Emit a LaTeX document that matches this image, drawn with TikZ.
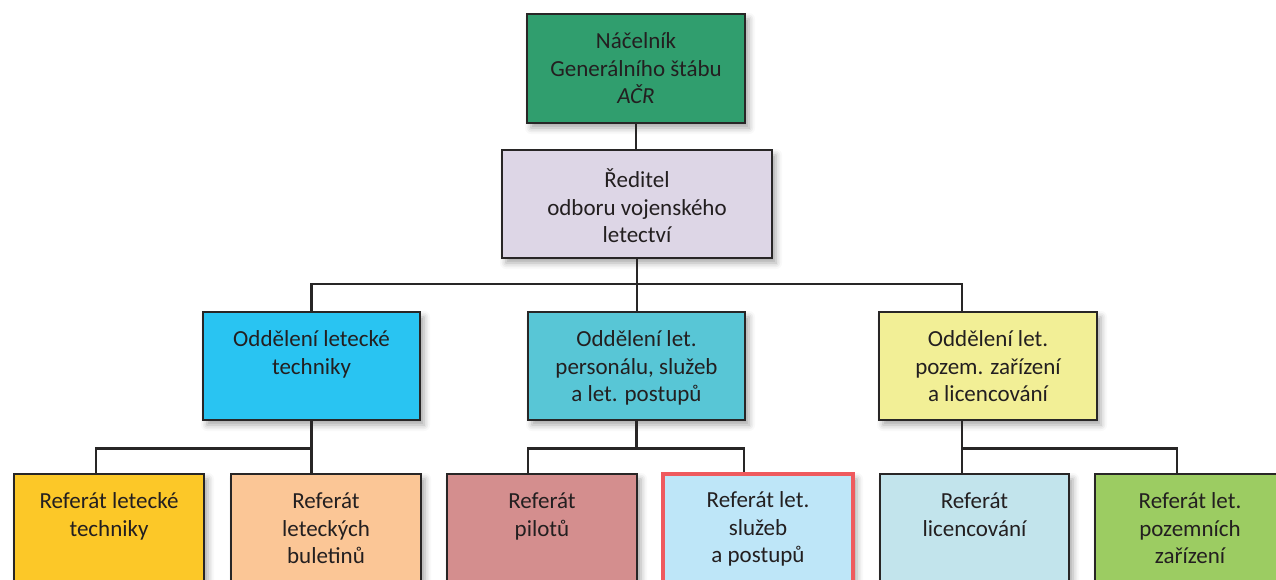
\documentclass[tikz,border=0pt]{standalone}
\usepackage{fontspec}
\setmainfont{Carlito}
\usetikzlibrary{shadows.blur}

\definecolor{txtc}{RGB}{35,31,32}
\definecolor{edgec}{RGB}{40,38,38}
\definecolor{cNac}{RGB}{48,158,110}
\definecolor{cDir}{RGB}{221,214,230}
\definecolor{cTech}{RGB}{41,196,242}
\definecolor{cPers}{RGB}{88,198,214}
\definecolor{cGround}{RGB}{242,239,150}
\definecolor{cR1}{RGB}{252,200,40}
\definecolor{cR2}{RGB}{251,198,150}
\definecolor{cR3}{RGB}{212,142,142}
\definecolor{cR4}{RGB}{190,230,248}
\definecolor{cR5}{RGB}{194,228,236}
\definecolor{cR6}{RGB}{156,204,98}
\definecolor{redrim}{RGB}{239,90,94}

\tikzset{
  orgbox/.style={draw=edgec, line width=2.5pt, rectangle, inner sep=0pt,
    blur shadow={shadow xshift=4pt, shadow yshift=-5pt,
      shadow blur radius=6pt, shadow opacity=35}},
  boxtext/.style={anchor=north, yshift=-20pt, align=center, inner sep=0pt,
    text=txtc, font=\fontsize{23}{27.5}\selectfont,
    execute at begin node=\strut},
  wide/.style={minimum width=270pt, minimum height=108pt},
  mid/.style={minimum width=217pt, minimum height=108pt},
  low/.style={minimum width=190pt, minimum height=136pt},
  link/.style={draw=edgec, line width=2.5pt}
}

\begin{document}
\begin{tikzpicture}[x=1pt, y=-1pt]
\useasboundingbox (0,0) rectangle (1276,579);
\clip (0,0) rectangle (1276,579);

% level 0 and 1
\node[orgbox, fill=cNac, minimum width=218pt, minimum height=109pt,
  label={[boxtext]north:{Náčelník\\Generálního štábu\\\textit{AČR}}}] (nac) at (636,68.5) {};
\node[orgbox, fill=cDir, wide,
  label={[boxtext]north:{Ředitel\\odboru vojenského\\letectví}}] (dir) at (637,204) {};

% level 2
\node[orgbox, fill=cTech, mid,
  label={[boxtext]north:{Oddělení letecké\\techniky}}] (oL) at (311.5,366) {};
\node[orgbox, fill=cPers, mid,
  label={[boxtext]north:{Oddělení let.\\personálu, služeb\\a let. postupů}}] (oM) at (636.5,366) {};
\node[orgbox, fill=cGround, minimum width=218pt, minimum height=108pt,
  label={[boxtext]north:{Oddělení let.\\pozem. zařízení\\a licencování}}] (oR) at (988,366) {};

% level 3
\node[orgbox, fill=cR1, low,
  label={[boxtext]north:{Referát letecké\\techniky}}] (r1) at (109,542) {};
\node[orgbox, fill=cR2, low,
  label={[boxtext]north:{Referát\\leteckých\\buletinů}}] (r2) at (326,542) {};
\node[orgbox, fill=cR3, low,
  label={[boxtext]north:{Referát\\pilotů}}] (r3) at (542,542) {};
\node[orgbox, fill=cR4, low, draw=redrim, line width=4.5pt,
  label={[boxtext]north:{Referát let.\\služeb\\a postupů}}] (r4) at (758,542) {};
\node[orgbox, fill=cR5, minimum width=189pt, minimum height=136pt,
  label={[boxtext]north:{Referát\\licencování}}] (r5) at (974.5,542) {};
\node[orgbox, fill=cR6, low,
  label={[boxtext]north:{Referát let.\\pozemních\\zařízení}}] (r6) at (1190,542) {};

% tree links
\draw[link] (nac.south) -- (nac.south |- dir.north);
\draw[link] (dir.south) -- (dir.south |- oM.north);
\draw[link] (oL.north) -- ++(0,-27) -| ([xshift=-26pt]oR.north);

\draw[link] (oL.south) -- (oL.south |- r2.north);
\draw[link] (oL.south) -- ++(0,27) -| ([xshift=-13pt]r1.north);

\draw[link] (oM.south) -- ++(0,27) -| ([xshift=-14pt]r3.north);
\draw[link] (oM.south) ++(0,27) -| ([xshift=-14pt]r4.north);

\draw[link] ([xshift=-26pt]oR.south) -- ([xshift=-26pt]oR.south |- r5.north);
\draw[link] ([xshift=-26pt]oR.south) -- ++(0,27) -| ([xshift=-13pt]r6.north);
\end{tikzpicture}
\end{document}
